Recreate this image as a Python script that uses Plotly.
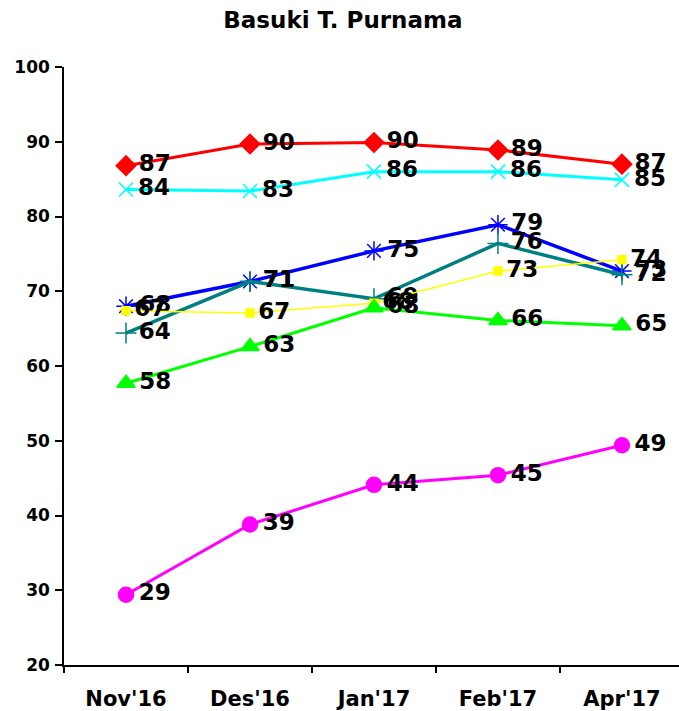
import plotly.graph_objects as go

months = ["Nov'16", "Des'16", "Jan'17", "Feb'17", "Apr'17"]

red_vals = [86.8, 89.7, 89.9, 88.9, 87.0]
cyan_vals = [83.6, 83.4, 86.0, 86.0, 84.9]
blue_vals = [68.0, 71.3, 75.4, 78.9, 72.7]
teal_vals = [64.4, 71.3, 69.0, 76.4, 72.2]
yellow_vals = [67.4, 67.1, 68.4, 72.7, 74.2]
green_vals = [57.7, 62.6, 67.8, 66.1, 65.4]
magenta_vals = [29.4, 38.8, 44.1, 45.4, 49.4]

x = list(range(len(months)))

series = [
    (red_vals, "#ff0000", 3, "diamond", 15),
    (cyan_vals, "#00ffff", 3, "x-thin-open", 14),
    (blue_vals, "#0000ff", 3.5, "asterisk-open", 16),
    (teal_vals, "#008080", 3.5, "cross-thin-open", 15),
    (yellow_vals, "#ffff00", 1.5, "square", 8),
    (green_vals, "#00ff00", 3, "triangle-up", 16),
    (magenta_vals, "#ff00ff", 3, "circle", 15),
]

fig = go.Figure()
for vals, color, lw, sym, size in series:
    fig.add_trace(go.Scatter(
        x=x, y=vals,
        mode="lines+markers+text",
        line=dict(color=color, width=lw),
        marker=dict(symbol=sym, size=size, color=color,
                    line=dict(color=color, width=1.5)),
        # hair space nudges each value label a little further from its marker
        text=[f"\u200a{round(v)}" for v in vals],
        textposition="middle right",
        textfont=dict(family="DejaVu Sans", size=23, color="black", weight="bold"),
        cliponaxis=False,
        showlegend=False,
    ))

fig.update_layout(
    width=679, height=711,
    margin=dict(l=64, r=0, t=67, b=43),
    paper_bgcolor="white",
    plot_bgcolor="white",
    title=dict(text="<b>Basuki T. Purnama</b>", x=0.505, xanchor="center",
               y=0.972, yanchor="middle",
               font=dict(family="DejaVu Sans", size=23, color="black")),
    font=dict(family="DejaVu Sans", color="black"),
)

fig.update_xaxes(
    range=[-0.5, 4.46],
    tickvals=x, ticktext=[f"<b>{m}</b>" for m in months],
    ticks="", tickfont=dict(size=21),
    ticklabelstandoff=14,
    showline=True, linecolor="black", linewidth=1.5,
    showgrid=False, zeroline=False,
    minor=dict(tickvals=[i - 0.5 for i in range(len(months) + 1)],
               ticks="outside", ticklen=6, tickcolor="black", tickwidth=1.5),
)

fig.update_yaxes(
    range=[20, 100], dtick=10,
    tickvals=list(range(20, 101, 10)),
    ticktext=[f"<b>{v}</b>" for v in range(20, 101, 10)],
    ticks="outside", ticklen=7, tickcolor="black", tickwidth=1.5,
    tickfont=dict(size=17),
    ticklabelstandoff=2,
    showline=True, linecolor="black", linewidth=1.5,
    showgrid=False, zeroline=False,
)

fig.write_html("out.html")
